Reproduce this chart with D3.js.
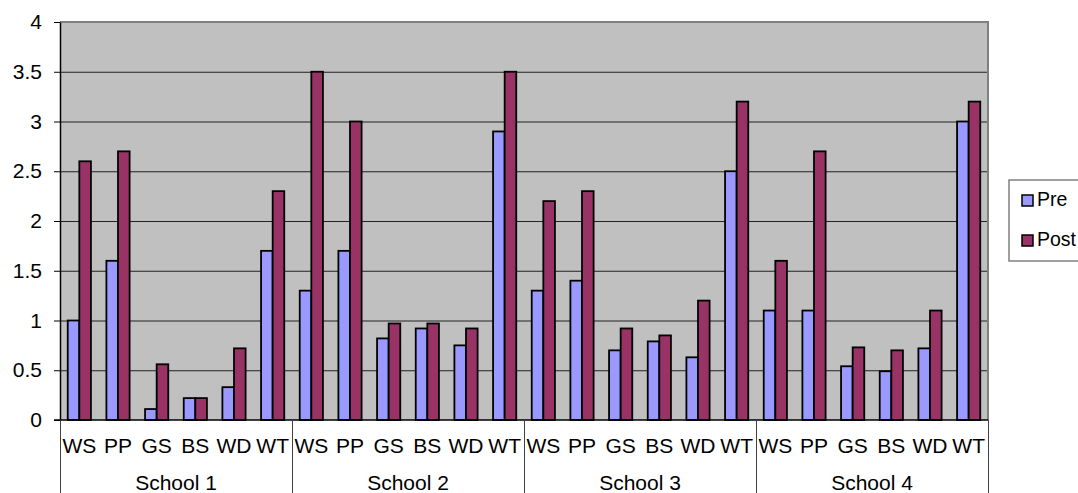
<!DOCTYPE html>
<html>
<head>
<meta charset="utf-8">
<script src="https://cdn.jsdelivr.net/npm/d3@7"></script>
<style>
  body { margin: 0; background: #fff; }
  svg { display: block; font-family: "Liberation Sans", Arial, sans-serif; }
</style>
</head>
<body>
<div id="chart"></div>
<script>
// Chart data
const schools = ["School 1", "School 2", "School 3", "School 4"];
const measures = ["WS", "PP", "GS", "BS", "WD", "WT"];
const seriesNames = ["Pre", "Post"];
const seriesColors = ["#9999FF", "#993366"];

// one row per school, one value per measure
const preValues = [
  [1.0, 1.6, 0.11, 0.22, 0.33, 1.7],
  [1.3, 1.7, 0.82, 0.92, 0.75, 2.9],
  [1.3, 1.4, 0.7, 0.79, 0.63, 2.5],
  [1.1, 1.1, 0.54, 0.49, 0.72, 3.0]
];
const postValues = [
  [2.6, 2.7, 0.56, 0.22, 0.72, 2.3],
  [3.5, 3.0, 0.97, 0.97, 0.92, 3.5],
  [2.2, 2.3, 0.92, 0.85, 1.2, 3.2],
  [1.6, 2.7, 0.73, 0.7, 1.1, 3.2]
];
const yTicks = [0, 0.5, 1, 1.5, 2, 2.5, 3, 3.5, 4];

const W = 1078, H = 493;
const margin = { top: 22, right: 90, bottom: 73, left: 60 };
const plotW = 988 - margin.left;
const plotH = 420 - margin.top;

const svg = d3.select("#chart")
  .append("svg")
  .attr("width", W)
  .attr("height", H);

const g = svg.append("g")
  .attr("transform", `translate(${margin.left},${margin.top})`);

// Scales
const xGroup = d3.scaleBand().domain(schools).range([0, plotW]).padding(0);
const xCat = d3.scaleBand().domain(measures).range([0, xGroup.bandwidth()]).padding(0);
const xSeries = d3.scaleBand().domain(seriesNames)
  .range([xCat.bandwidth() * 0.2, xCat.bandwidth() * 0.8]).padding(0);
const y = d3.scaleLinear().domain([0, 4]).range([plotH, 0]);

// Plot background
g.append("rect")
  .attr("width", plotW)
  .attr("height", plotH)
  .attr("fill", "#C0C0C0");

// Gridlines
g.append("g")
  .selectAll("line")
  .data(yTicks.filter((d) => d > 0 && d < 4))
  .enter()
  .append("line")
  .attr("x1", 0)
  .attr("x2", plotW)
  .attr("y1", (d) => y(d) + 0.5)
  .attr("y2", (d) => y(d) + 0.5)
  .attr("stroke", "#222")
  .attr("stroke-width", 1.2);

// Plot border (top and right, grey)
g.append("path")
  .attr("d", `M0,${y(4)}H${plotW}V${plotH}`)
  .attr("fill", "none")
  .attr("stroke", "#808080")
  .attr("stroke-width", 2);

// Bars
const rows = [];
schools.forEach((s, si) => {
  measures.forEach((m, mi) => {
    rows.push({ school: s, measure: m, series: "Pre", value: preValues[si][mi] });
    rows.push({ school: s, measure: m, series: "Post", value: postValues[si][mi] });
  });
});

g.append("g")
  .selectAll("rect")
  .data(rows)
  .enter()
  .append("rect")
  .attr("x", (d) => xGroup(d.school) + xCat(d.measure) + xSeries(d.series))
  .attr("y", (d) => y(d.value))
  .attr("width", xSeries.bandwidth())
  .attr("height", (d) => y(0) - y(d.value))
  .attr("fill", (d) => seriesColors[seriesNames.indexOf(d.series)])
  .attr("stroke", "#000")
  .attr("stroke-width", 1.8);

// Y axis
const yAxis = g.append("g")
  .call(d3.axisLeft(y).tickValues(yTicks).tickSize(6).tickSizeOuter(0).tickFormat((d) => String(d)));
yAxis.select(".domain").attr("stroke", "#000").attr("stroke-width", 1.5);
yAxis.selectAll(".tick line").attr("stroke", "#000");
yAxis.selectAll("text")
  .attr("x", -18)
  .style("font-size", "21px")
  .attr("fill", "#000");

// X axis line
g.append("line")
  .attr("x1", -6)
  .attr("x2", plotW)
  .attr("y1", plotH)
  .attr("y2", plotH)
  .attr("stroke", "#000")
  .attr("stroke-width", 1.5);

// Category labels
schools.forEach((s) => {
  g.append("g")
    .selectAll("text")
    .data(measures)
    .enter()
    .append("text")
    .attr("x", (m) => xGroup(s) + xCat(m) + xCat.bandwidth() / 2)
    .attr("y", plotH + 33)
    .attr("text-anchor", "middle")
    .style("font-size", "21px")
    .text((m) => m);
});

// School labels
g.append("g")
  .selectAll("text")
  .data(schools)
  .enter()
  .append("text")
  .attr("x", (s) => xGroup(s) + xGroup.bandwidth() / 2)
  .attr("y", plotH + 70)
  .attr("text-anchor", "middle")
  .style("font-size", "21px")
  .text((s) => s);

// Group separators below the axis
g.append("g")
  .selectAll("line")
  .data(schools.concat(["end"]))
  .enter()
  .append("line")
  .attr("x1", (s, i) => (i < schools.length ? xGroup(s) : plotW) + 0.5)
  .attr("x2", (s, i) => (i < schools.length ? xGroup(s) : plotW) + 0.5)
  .attr("y1", plotH)
  .attr("y2", H - margin.top)
  .attr("stroke", "#404040")
  .attr("stroke-width", 1);

// Legend
const legend = svg.append("g").attr("transform", "translate(1009,180)");
legend.append("rect")
  .attr("width", 90)
  .attr("height", 81)
  .attr("fill", "#fff")
  .attr("stroke", "#808080")
  .attr("stroke-width", 1.5);

legend.selectAll(".swatch")
  .data(seriesNames)
  .enter()
  .append("rect")
  .attr("class", "swatch")
  .attr("x", 13)
  .attr("y", (d, i) => 15 + i * 40)
  .attr("width", 11)
  .attr("height", 11)
  .attr("fill", (d, i) => seriesColors[i])
  .attr("stroke", "#000")
  .attr("stroke-width", 1.5);

legend.selectAll(".label")
  .data(seriesNames)
  .enter()
  .append("text")
  .attr("class", "label")
  .attr("x", 28)
  .attr("y", (d, i) => 26 + i * 40)
  .style("font-size", "19.5px")
  .text((d) => d);
</script>
</body>
</html>
